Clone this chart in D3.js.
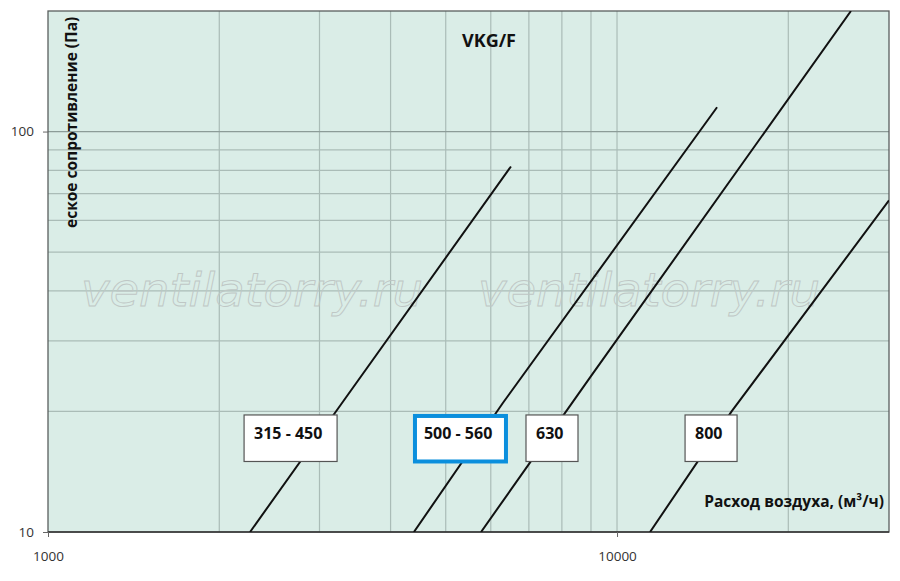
<!DOCTYPE html>
<html>
<head>
<meta charset="utf-8">
<script src="https://cdn.jsdelivr.net/npm/d3@7"></script>
<style>
  body { margin: 0; background: #fff; }
  svg { display: block; font-family: "Open Sans", "Noto Sans", sans-serif; }
</style>
</head>
<body>
<svg id="chart" width="900" height="581"></svg>
<script>
// series: air flow (m3/h) vs pressure drop (Pa)
var seriesNames = ["315 - 450", "500 - 560", "630", "800"];
var flow315 = [2265, 3310, 6510];
var pres315 = [10, 21.3, 81.8];
var flow500 = [4396, 6300, 14990];
var pres500 = [10, 21.0, 115];
var flow630 = [5768, 9000, 25770];
var pres630 = [10, 24.5, 200];
var flow800 = [11430, 15900, 30060];
var pres800 = [10, 20, 67.3];

// label boxes (left edge in m3/h, box spans these pressures)
var labelFlow = [2211, 4397, 6919, 13170];
var labelPres = [15.0, 19.6];

var xTickLabels = [1000, 10000];
var yTickLabels = [10, 100];
var xGrid = [2000, 3000, 4000, 5000, 6000, 7000, 8000, 9000, 10000, 20000];
var yGrid = [20, 30, 40, 50, 60, 70, 80, 90, 100];

var svg = d3.select("#chart");
var pLeft = 48, pRight = 889, pTop = 11, pBottom = 532;

var x = d3.scaleLog().domain([1000, 30060]).range([pLeft, pRight]);
var y = d3.scaleLog().domain([10, 200]).range([pBottom, pTop]);

svg.append("defs").append("clipPath").attr("id", "plotclip")
  .append("rect").attr("x", pLeft).attr("y", pTop)
  .attr("width", pRight - pLeft).attr("height", pBottom - pTop);

// plot background
svg.append("rect")
  .attr("x", pLeft).attr("y", pTop)
  .attr("width", pRight - pLeft).attr("height", pBottom - pTop)
  .attr("fill", "#daede7");

// grid
svg.append("g").selectAll("line").data(xGrid).enter().append("line")
  .attr("x1", function(d) { return x(d); }).attr("x2", function(d) { return x(d); })
  .attr("y1", pTop).attr("y2", pBottom)
  .attr("stroke", "#aabcb7").attr("stroke-width", 1.2);

svg.append("g").selectAll("line").data(yGrid).enter().append("line")
  .attr("x1", pLeft).attr("x2", pRight)
  .attr("y1", function(d) { return y(d); }).attr("y2", function(d) { return y(d); })
  .attr("stroke", function(d) { return d === 100 ? "#8c9c98" : "#aabcb7"; })
  .attr("stroke-width", 1.2);

// watermark
var wmX = [252, 649];
svg.append("g").selectAll("text").data(wmX).enter().append("text")
  .attr("x", function(d) { return d; }).attr("y", 306)
  .attr("text-anchor", "middle")
  .attr("font-size", 46).attr("font-style", "italic")
  .attr("font-family", "DejaVu Sans, sans-serif")
  .attr("textLength", 342).attr("lengthAdjust", "spacingAndGlyphs")
  .attr("fill", "none").attr("stroke", "#bfc7c5").attr("stroke-width", 0.9)
  .text("ventilatorry.ru");

// frame
svg.append("rect")
  .attr("x", pLeft).attr("y", pTop)
  .attr("width", pRight - pLeft).attr("height", pBottom - pTop)
  .attr("fill", "none").attr("stroke", "#5a5f5e").attr("stroke-width", 1.3);
svg.append("line")
  .attr("x1", pLeft).attr("x2", pRight).attr("y1", pBottom).attr("y2", pBottom)
  .attr("stroke", "#333").attr("stroke-width", 1.6);

// curves
var series = [
  d3.zip(flow315, pres315),
  d3.zip(flow500, pres500),
  d3.zip(flow630, pres630),
  d3.zip(flow800, pres800)
];
var line = d3.line()
  .x(function(d) { return x(d[0]); })
  .y(function(d) { return y(d[1]); });

svg.append("g").attr("clip-path", "url(#plotclip)")
  .selectAll("path").data(series).enter().append("path")
  .attr("d", line)
  .attr("fill", "none").attr("stroke", "#111").attr("stroke-width", 2);

// axes ticks
var yAxis = d3.axisLeft(y).tickValues(yTickLabels).tickSize(5).tickPadding(9)
  .tickFormat(d3.format("d"));
var gy = svg.append("g").attr("transform", "translate(" + pLeft + ",0)").call(yAxis);
gy.select(".domain").remove();
gy.selectAll("line").attr("stroke", "#666");
gy.selectAll("text").attr("font-size", 13.5).attr("fill", "#333")
  .attr("font-family", "Open Sans, sans-serif");

var xAxis = d3.axisBottom(x).tickValues(xTickLabels).tickSize(5).tickPadding(14)
  .tickFormat(d3.format("d"));
var gx = svg.append("g").attr("transform", "translate(0," + pBottom + ")").call(xAxis);
gx.select(".domain").remove();
gx.selectAll("line").attr("stroke", "#666");
gx.selectAll("text").attr("font-size", 13.5).attr("fill", "#333")
  .attr("font-family", "Open Sans, sans-serif");

// label boxes
var boxW = [93, 93, 52, 52];
var labels = svg.append("g").selectAll("g").data(seriesNames).enter().append("g");
labels.append("rect")
  .attr("x", function(d, i) { return x(labelFlow[i]) + (i === 1 ? 1 : 0); })
  .attr("y", function(d, i) { return y(labelPres[1]) + (i === 1 ? 1 : 0); })
  .attr("width", function(d, i) { return boxW[i] - (i === 1 ? 2 : 0); })
  .attr("height", function(d, i) { return y(labelPres[0]) - y(labelPres[1]) - (i === 1 ? 1 : 0); })
  .attr("fill", "#fff")
  .attr("stroke", function(d, i) { return i === 1 ? "#0b8fdd" : "#555"; })
  .attr("stroke-width", function(d, i) { return i === 1 ? 4 : 1.2; });
labels.append("text")
  .attr("x", function(d, i) { return x(labelFlow[i]) + 10; })
  .attr("y", function(d, i) { return y(labelPres[1]) + 24; })
  .attr("font-size", 16).attr("font-weight", "bold").attr("fill", "#111")
  .text(function(d) { return d; });

// title and axis titles
svg.append("text")
  .attr("x", 489).attr("y", 47).attr("text-anchor", "middle")
  .attr("font-size", 18).attr("font-weight", "bold").attr("fill", "#111")
  .text("VKG/F");

svg.append("text")
  .attr("transform", "translate(77,228) rotate(-90)")
  .attr("font-size", 15.5).attr("font-weight", "bold").attr("fill", "#111")
  .text("еское сопротивление (Па)");

svg.append("text")
  .attr("x", 884).attr("y", 507).attr("text-anchor", "end")
  .attr("font-size", 15.5).attr("font-weight", "bold").attr("fill", "#111")
  .text("Расход воздуха, (м³/ч)");
</script>
</body>
</html>
